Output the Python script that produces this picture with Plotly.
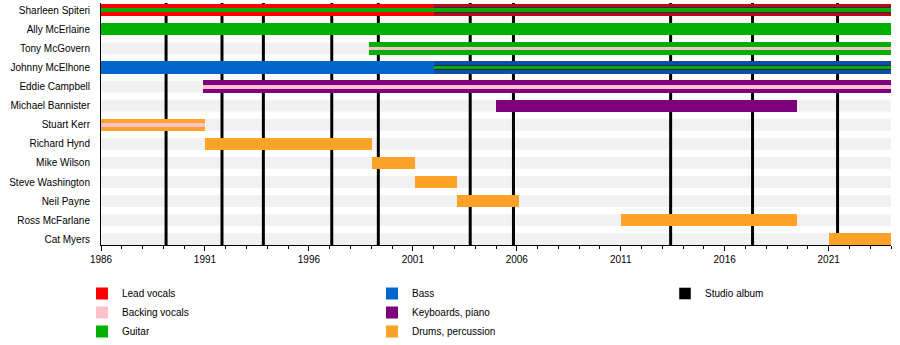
import plotly.graph_objects as go

# ---------------- data ----------------
members = ["Sharleen Spiteri", "Ally McErlaine", "Tony McGovern", "Johnny McElhone",
           "Eddie Campbell", "Michael Bannister", "Stuart Kerr", "Richard Hynd",
           "Mike Wilson", "Steve Washington", "Neil Payne", "Ross McFarlane", "Cat Myers"]

# primary role (full bar)
main_member = members
main_role = ["Lead vocals", "Guitar", "Guitar", "Bass", "Keyboards, piano",
             "Keyboards, piano", "Drums, percussion", "Drums, percussion",
             "Drums, percussion", "Drums, percussion", "Drums, percussion",
             "Drums, percussion", "Drums, percussion"]
main_start = [1986.0, 1986.0, 1998.9, 1986.0, 1990.9, 2005.0, 1986.0, 1991.0,
              1999.05, 2001.1, 2003.1, 2011.0, 2021.0]
main_end = [2024.0, 2024.0, 2024.0, 2024.0, 2024.0, 2019.5, 1991.0, 1999.05,
            2001.1, 2003.1, 2006.1, 2019.5, 2024.0]

# secondary role (stripe)
sec_member = ["Sharleen Spiteri", "Tony McGovern", "Johnny McElhone",
              "Eddie Campbell", "Stuart Kerr"]
sec_role = ["Guitar", "Backing vocals", "Guitar", "Backing vocals", "Backing vocals"]
sec_start = [1986.0, 1998.9, 2002.0, 1990.9, 1986.0]
sec_end = [2024.0, 2024.0, 2024.0, 2024.0, 1991.0]

# later period shading
shade_member = ["Sharleen Spiteri", "Johnny McElhone"]
shade_start = [2002.0, 2002.0]
shade_end = [2024.0, 2024.0]

# studio albums
album_years = [1989.13, 1991.82, 1993.81, 1997.10, 1999.34, 2003.76, 2005.84,
               2013.40, 2017.34, 2021.43]

roles = ["Lead vocals", "Backing vocals", "Guitar", "Bass", "Keyboards, piano",
         "Drums, percussion"]
x_start, x_end = 1986, 2024
tick_years = list(range(1986, 2022, 5))

# ---------------- styles ----------------
role_color = {
    "Lead vocals": "#ff0000",
    "Backing vocals": "#ffc0cc",
    "Guitar": "#00b000",
    "Bass": "#0066cc",
    "Keyboards, piano": "#7d007d",
    "Drums, percussion": "#ffa228",
}
role_legend = {
    "Lead vocals": "legend", "Backing vocals": "legend", "Guitar": "legend",
    "Bass": "legend2", "Keyboards, piano": "legend2", "Drums, percussion": "legend2",
}
FULL_W = 0.64
STRIPE_W = 0.2
DARK_W = 0.3
BAND_W = 0.62
FONT = "Liberation Sans, Arial, sans-serif"

row = {m: i for i, m in enumerate(members)}

fig = go.Figure()

# background bands & album lines as shapes below traces
shapes = []
for m in members:
    i = row[m]
    shapes.append(dict(type="rect", xref="paper", yref="y", x0=0, x1=1,
                       y0=i - BAND_W / 2, y1=i + BAND_W / 2,
                       fillcolor="#f1f1f1", line_width=0, layer="below"))
for a in album_years:
    shapes.append(dict(type="line", xref="x", yref="paper", x0=a, x1=a, y0=0, y1=1,
                       line=dict(color="black", width=3), layer="below"))

shown = set()


def add_bars(mem, rl, st, en, width):
    for r in roles:
        idx = [k for k in range(len(mem)) if rl[k] == r]
        if not idx:
            continue
        show = r not in shown
        if show:
            shown.add(r)
        fig.add_trace(go.Bar(
            orientation="h",
            y=[row[mem[k]] for k in idx],
            base=[st[k] for k in idx],
            x=[en[k] - st[k] for k in idx],
            width=width,
            marker=dict(color=role_color[r], line_width=0),
            name=r, legendgroup=r, showlegend=show, legendrank=roles.index(r) + 1,
            legend=role_legend[r], hoverinfo="skip",
        ))


# full bars
add_bars(main_member, main_role, main_start, main_end, FULL_W)
# shading of later period
fig.add_trace(go.Bar(
    orientation="h", y=[row[m] for m in shade_member], base=shade_start,
    x=[e - s for s, e in zip(shade_start, shade_end)], width=FULL_W,
    marker=dict(color="rgba(40,20,80,0.28)", line_width=0),
    showlegend=False, hoverinfo="skip"))
fig.add_trace(go.Bar(
    orientation="h", y=[row[m] for m in shade_member], base=shade_start,
    x=[e - s for s, e in zip(shade_start, shade_end)], width=DARK_W,
    marker=dict(color="#2a2a45", line_width=0),
    showlegend=False, hoverinfo="skip"))
# stripes
add_bars(sec_member, sec_role, sec_start, sec_end, STRIPE_W)

fig.add_trace(go.Bar(x=[None], y=[None], name="Studio album", marker_color="black",
                     legend="legend3", orientation="h", legendrank=1))

legend_common = dict(xref="container", yref="container", xanchor="left",
                     yanchor="top", y=1 - 279 / 345, bgcolor="rgba(0,0,0,0)",
                     font=dict(family=FONT, size=10, color="black"),
                     traceorder="normal", itemclick=False, itemdoubleclick=False)

fig.update_layout(
    width=900, height=345,
    margin=dict(l=101, r=9, t=3, b=100, autoexpand=False),
    paper_bgcolor="white", plot_bgcolor="white",
    barmode="overlay", bargap=0,
    shapes=shapes,
    font=dict(family=FONT, size=10, color="black"),
    legend=dict(x=82 / 900, **legend_common),
    legend2=dict(x=372 / 900, **legend_common),
    legend3=dict(x=665 / 900, **legend_common),
    showlegend=True,
    xaxis=dict(range=[x_start, x_end], tickvals=tick_years,
               ticktext=[str(t) for t in tick_years], tickangle=0,
               showgrid=False, zeroline=False, showline=True, linecolor="black",
               linewidth=1, ticks="outside", ticklen=5, tickcolor="black",
               minor=dict(dtick=1, tick0=1986, ticks="outside", ticklen=3,
                          tickcolor="black", showgrid=False),
               tickfont=dict(family=FONT, size=10, color="black")),
    yaxis=dict(range=[12.3, -0.38], tickvals=list(range(len(members))),
               ticktext=members, showgrid=False, zeroline=False,
               showline=True, linecolor="black", linewidth=1, ticks="",
               ticklabelstandoff=8,
               tickfont=dict(family=FONT, size=10, color="black")),
)

fig.write_html("out.html")
